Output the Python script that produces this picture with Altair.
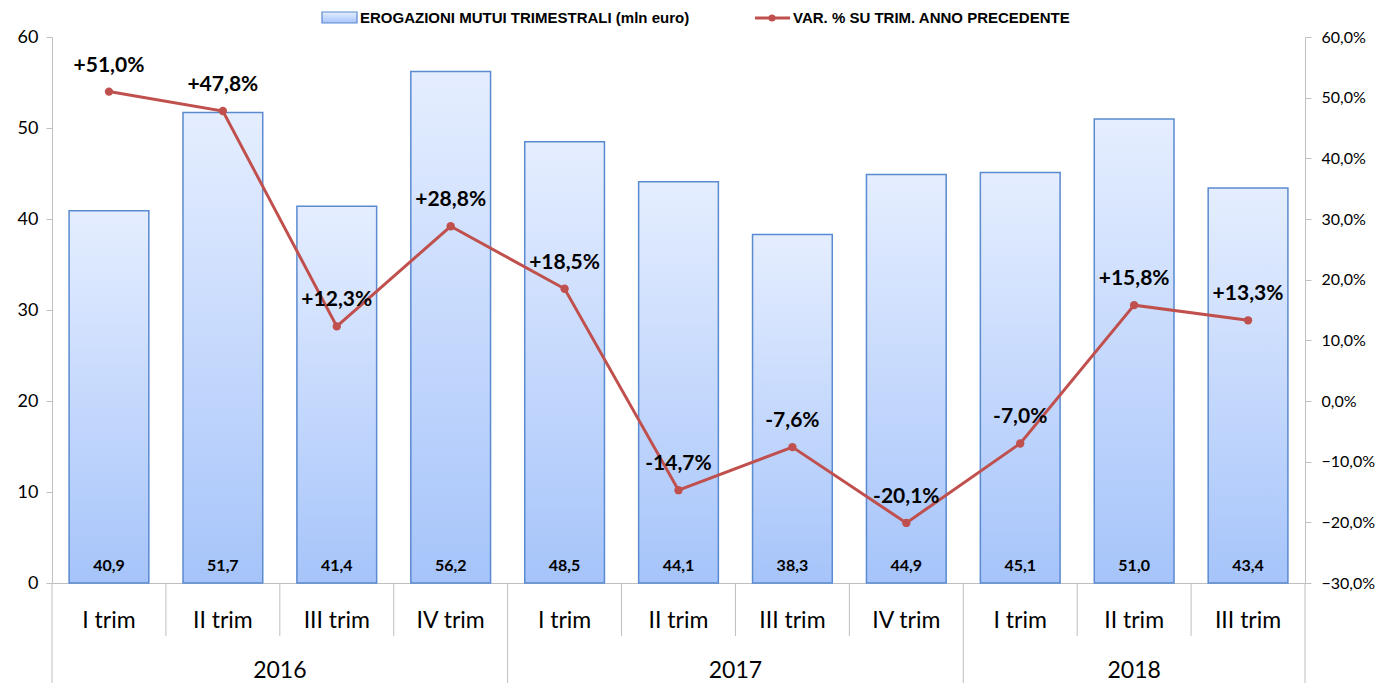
import altair as alt
import pandas as pd

years = ["2016", "2016", "2016", "2016", "2017", "2017", "2017", "2017", "2018", "2018", "2018"]
trims = ["I trim", "II trim", "III trim", "IV trim", "I trim", "II trim", "III trim", "IV trim", "I trim", "II trim", "III trim"]
erogazioni = [40.9, 51.7, 41.4, 56.2, 48.5, 44.1, 38.3, 44.9, 45.1, 51.0, 43.4]
variazioni = [51.0, 47.8, 12.3, 28.8, 18.5, -14.7, -7.6, -20.1, -7.0, 15.8, 13.3]

bar_name = "EROGAZIONI MUTUI TRIMESTRALI (mln euro)"
line_name = "VAR. % SU TRIM. ANNO PRECEDENTE"

W, H = 1253, 546
FONT = "Lato"
RED = "#c0504d"
GRID = "#bfbfbf"

n = len(years)
keys = [f"{y}-{i}" for i, y in enumerate(years)]
df = pd.DataFrame({
    "key": keys,
    "trim": trims,
    "year": years,
    "ero": erogazioni,
    "var": variazioni,
})
df["ero_lbl"] = [f"{v:.1f}".replace(".", ",") for v in erogazioni]
df["var_lbl"] = [("+" if v > 0 else "") + f"{v:.1f}".replace(".", ",") + "%" for v in variazioni]
df["year_start"] = [i == 0 or years[i] != years[i - 1] for i in range(n)]
df["last"] = [i == n - 1 for i in range(n)]

counts = {y: years.count(y) for y in dict.fromkeys(years)}
first_idx = {y: years.index(y) for y in counts}
df["year_mid_even"] = [counts[y] % 2 == 0 and i == first_idx[y] + counts[y] // 2 for i, y in enumerate(years)]
df["year_mid_odd"] = [counts[y] % 2 == 1 and i == first_idx[y] + counts[y] // 2 for i, y in enumerate(years)]

label_expr = "{" + ",".join(f"'{k}':'{t}'" for k, t in zip(keys, trims)) + "}[datum.value]"

xscale = alt.Scale(domain=keys, paddingInner=0, paddingOuter=0)
x_axis = alt.Axis(labelExpr=label_expr, labelAngle=0, labelFont=FONT, labelFontSize=23,
                  labelColor="#000000", labelPadding=37, ticks=False, domain=True,
                  domainColor=GRID, domainWidth=1, grid=False, labelBaseline="middle",
                  title=None)


def xh(bp=None):
    if bp is None:
        return alt.X("key:N", sort=keys, title=None, scale=xscale, axis=x_axis)
    return alt.X("key:N", sort=keys, title=None, scale=xscale, axis=x_axis, bandPosition=bp)


gradient = alt.Gradient(
    gradient="linear",
    stops=[alt.GradientStop(color="#e5eeff", offset=0),
           alt.GradientStop(color="#a6c4fa", offset=1)],
    x1=0, x2=0, y1=0, y2=1,
)

yl_axis = alt.Axis(values=[0, 10, 20, 30, 40, 50, 60], orient="left", labelFont=FONT,
                   labelFontSize=18, labelColor="#000000", grid=False,
                   domainColor=GRID, tickColor=GRID, tickSize=6, labelPadding=8, title=None)
y_left = alt.Y("ero:Q", title=None, scale=alt.Scale(domain=[0, 60], nice=False), axis=yl_axis)

bars = alt.Chart(df).mark_bar(width={"band": 0.7}, fill=gradient, stroke="#5a8ad0",
                              strokeWidth=1.5).encode(x=xh(), y=y_left)

bar_text = alt.Chart(df).mark_text(font=FONT, fontSize=16, fontWeight="bold", color="#000000",
                                   baseline="middle").encode(
    x=xh(), y=alt.value(H - 17), text="ero_lbl:N")

yr_scale = alt.Scale(domain=[-30, 60], nice=False)
yr_axis = alt.Axis(values=[-30, -20, -10, 0, 10, 20, 30, 40, 50, 60], orient="right",
                   labelExpr="replace(format(datum.value, '.1f'), '.', ',') + '%'",
                   labelFont=FONT, labelFontSize=16, labelColor="#000000", grid=False,
                   domainColor=GRID, tickColor=GRID, tickSize=6, labelPadding=10, title=None)
y_right = alt.Y("var:Q", title=None, scale=yr_scale, axis=yr_axis)

line = alt.Chart(df).mark_line(color=RED, strokeWidth=3).encode(x=xh(), y=y_right)
pts = alt.Chart(df).mark_point(filled=True, color=RED, size=70, opacity=1).encode(
    x=xh(), y=y_right)
var_text = alt.Chart(df).mark_text(font=FONT, fontSize=21, fontWeight="bold", color="#000000",
                                   dy=-26).encode(x=xh(), y=y_right, text="var_lbl:N")

left = alt.layer(bars, bar_text)
right = alt.layer(line, pts, var_text)

short_sep = alt.Chart(df).transform_filter("!datum.year_start").mark_rule(
    color=GRID, strokeWidth=1).encode(x=xh(0), y=alt.value(H), y2=alt.value(H + 53))
long_sep = alt.Chart(df).transform_filter("datum.year_start").mark_rule(
    color=GRID, strokeWidth=1).encode(x=xh(0), y=alt.value(H), y2=alt.value(H + 100))
end_sep = alt.Chart(df).transform_filter("datum.last").mark_rule(
    color=GRID, strokeWidth=1).encode(x=xh(1), y=alt.value(H), y2=alt.value(H + 100))
year_even = alt.Chart(df).transform_filter("datum.year_mid_even").mark_text(
    font=FONT, fontSize=23, color="#000000", baseline="middle").encode(
    x=xh(0), y=alt.value(H + 88), text="year:N")
year_odd = alt.Chart(df).transform_filter("datum.year_mid_odd").mark_text(
    font=FONT, fontSize=23, color="#000000", baseline="middle").encode(
    x=xh(0.5), y=alt.value(H + 88), text="year:N")

LFONT = "Liberation Sans Narrow, Liberation Sans"
leg_df = pd.DataFrame({"name": [bar_name, line_name]})
leg_rect = alt.Chart(leg_df).transform_filter(alt.datum.name == bar_name).mark_rect(
    fill=gradient, stroke="#5a8ad0", strokeWidth=1.2).encode(
    x=alt.value(270), x2=alt.value(305), y=alt.value(-25), y2=alt.value(-14))
leg_line = alt.Chart(leg_df).transform_filter(alt.datum.name == line_name).mark_rule(
    color=RED, strokeWidth=3).encode(x=alt.value(703), x2=alt.value(738), y=alt.value(-19))
leg_pt = alt.Chart(leg_df).transform_filter(alt.datum.name == line_name).mark_point(
    filled=True, color=RED, size=50, opacity=1).encode(x=alt.value(720), y=alt.value(-19))
leg_t1 = alt.Chart(leg_df).transform_filter(alt.datum.name == bar_name).mark_text(
    font=LFONT, fontSize=15, fontWeight="bold", align="left",
    baseline="middle", color="#000000").encode(x=alt.value(308), y=alt.value(-19), text="name:N")
leg_t2 = alt.Chart(leg_df).transform_filter(alt.datum.name == line_name).mark_text(
    font=LFONT, fontSize=15, fontWeight="bold", align="left",
    baseline="middle", color="#000000").encode(x=alt.value(741), y=alt.value(-19), text="name:N")

chart = alt.layer(
    left, right, short_sep, long_sep, end_sep, year_even, year_odd,
    leg_rect, leg_line, leg_pt, leg_t1, leg_t2,
).resolve_scale(y="independent").properties(
    width=W, height=H,
    autosize=alt.AutoSizeParams(type="none"),
    padding={"left": 44, "top": 29, "right": 71, "bottom": 100},
).configure(background="white").configure_view(stroke=None)

chart.save("out.html", embed_options={"renderer": "svg", "actions": False})
